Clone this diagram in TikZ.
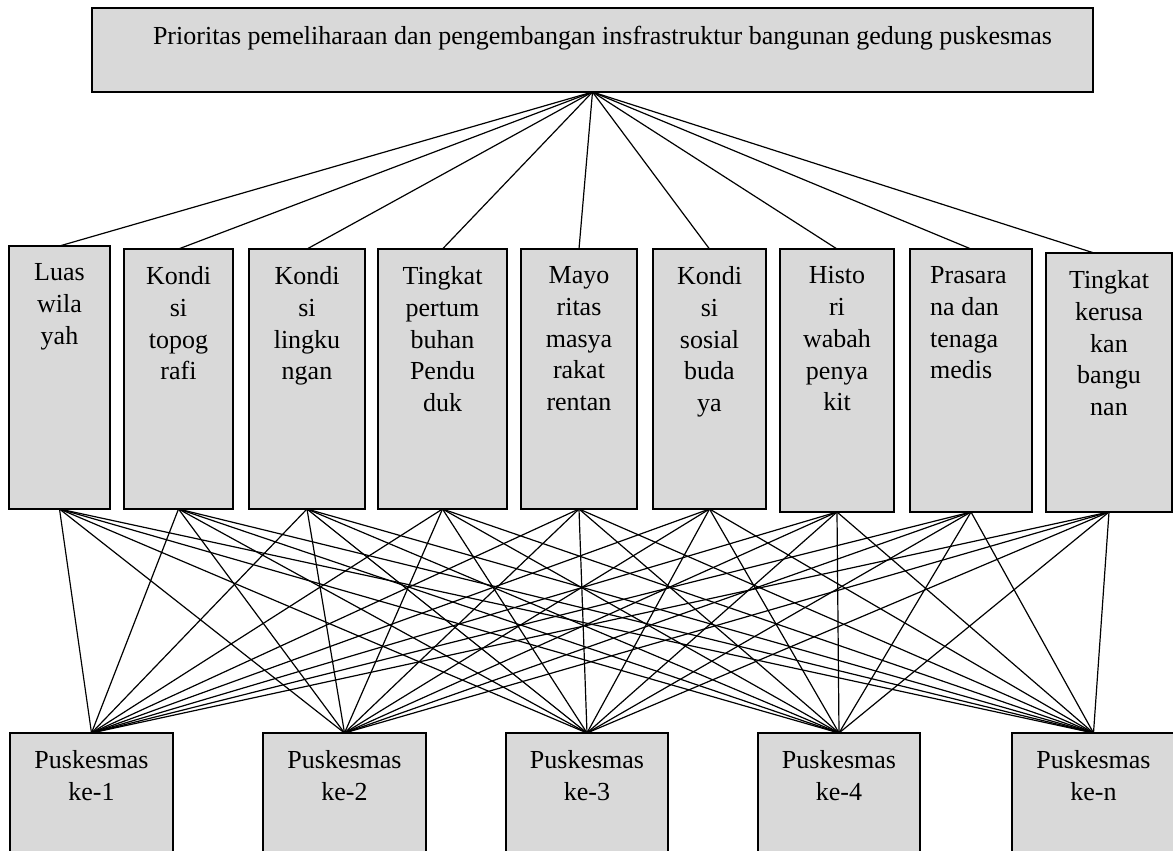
\documentclass[tikz,border=0pt]{standalone}
\usepackage{fontspec}
\setmainfont{Liberation Serif}
\definecolor{boxfill}{RGB}{217,217,217}
\newcommand\lblfont{\fontsize{26}{31.7}\selectfont}
\tikzset{
  panel/.style={draw=black, line width=1.6pt, fill=boxfill, inner sep=0pt, outer sep=0pt, anchor=north west},
  lbl/.style={font=\lblfont, align=center, inner sep=0pt, anchor=north},
  link/.style={line width=1.2pt, black}
}
\begin{document}
\begin{tikzpicture}[x=1pt, y=-1pt]
  \fill[white] (0,0) rectangle (1173,851);
  \useasboundingbox (0,0) rectangle (1173,851);
  \clip (0,0) rectangle (1173,851);

  % goal
  \node[panel, minimum width=1001pt, minimum height=84pt] (goal) at (92,8) {};
  \node[lbl] (goalt) at ([xshift=10pt, yshift=-17.5pt]goal.north)
    {Prioritas pemeliharaan dan pengembangan insfrastruktur bangunan gedung puskesmas};

  % criteria
  \node[panel, minimum width=101pt, minimum height=263pt] (c1) at (9,246) {};
  \node[panel, minimum width=109pt, minimum height=260pt] (c2) at (124,249) {};
  \node[panel, minimum width=116pt, minimum height=260pt] (c3) at (249,249) {};
  \node[panel, minimum width=129pt, minimum height=260pt] (c4) at (378,249) {};
  \node[panel, minimum width=116pt, minimum height=260pt] (c5) at (521,249) {};
  \node[panel, minimum width=113pt, minimum height=260pt] (c6) at (653,249) {};
  \node[panel, minimum width=114pt, minimum height=263pt] (c7) at (780,249) {};
  \node[panel, minimum width=122pt, minimum height=263pt] (c8) at (910,249) {};
  \node[panel, minimum width=126pt, minimum height=259pt] (c9) at (1046,253) {};

  \node[lbl] (c1t) at ([yshift=-17.5pt]c1.north) {Luas\\wila\\yah};
  \node[lbl] (c2t) at ([yshift=-17.5pt]c2.north) {Kondi\\si\\topog\\rafi};
  \node[lbl] (c3t) at ([yshift=-17.5pt]c3.north) {Kondi\\si\\lingku\\ngan};
  \node[lbl] (c4t) at ([yshift=-17.5pt]c4.north) {Tingkat\\pertum\\buhan\\Pendu\\duk};
  \node[lbl] (c5t) at ([yshift=-17.5pt]c5.north) {Mayo\\ritas\\masya\\rakat\\rentan};
  \node[lbl] (c6t) at ([yshift=-17.5pt]c6.north) {Kondi\\si\\sosial\\buda\\ya};
  \node[lbl] (c7t) at ([yshift=-17.5pt]c7.north) {Histo\\ri\\wabah\\penya\\kit};
  \node[lbl, align=left, anchor=north west] (c8t) at ([xshift=20pt, yshift=-17.5pt]c8.north west) {Prasara\\na dan\\tenaga\\medis};
  \node[lbl] (c9t) at ([yshift=-17.5pt]c9.north) {Tingkat\\kerusa\\kan\\bangu\\nan};

  % alternatives
  \node[panel, minimum width=163pt, minimum height=170pt] (p1) at (10,733) {};
  \node[panel, minimum width=163pt, minimum height=170pt] (p2) at (263,733) {};
  \node[panel, minimum width=162pt, minimum height=170pt] (p3) at (506,733) {};
  \node[panel, minimum width=162pt, minimum height=170pt] (p4) at (758,733) {};
  \node[panel, minimum width=163pt, minimum height=170pt] (p5) at (1012,733) {};

  \node[lbl] (p1t) at ([yshift=-17.5pt]p1.north) {Puskesmas\\ke-1};
  \node[lbl] (p2t) at ([yshift=-17.5pt]p2.north) {Puskesmas\\ke-2};
  \node[lbl] (p3t) at ([yshift=-17.5pt]p3.north) {Puskesmas\\ke-3};
  \node[lbl] (p4t) at ([yshift=-17.5pt]p4.north) {Puskesmas\\ke-4};
  \node[lbl] (p5t) at ([yshift=-17.5pt]p5.north) {Puskesmas\\ke-n};

  % goal to criteria
  \foreach \c in {c1,c2,c3,c4,c5,c6,c7,c8}
    \draw[link] (goal.south) -- (\c.north);
  \draw[link] (goal.south) -- ([xshift=-15pt]c9.north);

  % criteria to alternatives
  \foreach \c in {c1,c2,c3,c4,c5,c6,c7,c8,c9}
    \foreach \p in {p1,p2,p3,p4,p5}
      \draw[link] (\c.south) -- (\p.north);
\end{tikzpicture}
\end{document}
